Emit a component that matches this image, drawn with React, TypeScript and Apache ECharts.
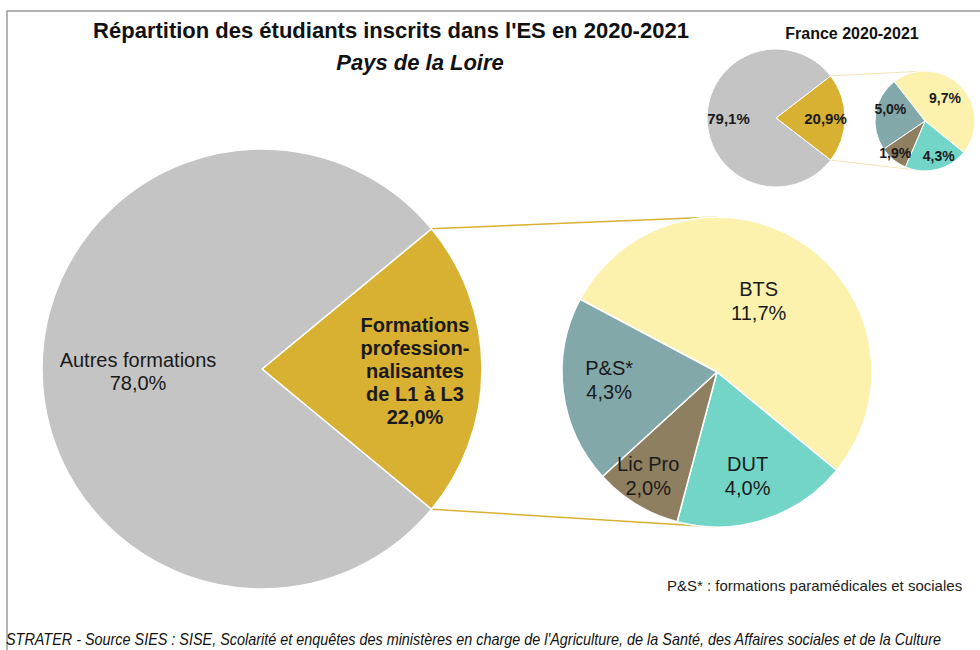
import React, { useEffect, useRef } from "react";
import * as echarts from "echarts";

// ---- Data ----
const mainNames = ["Formations professionnalisantes de L1 à L3", "Autres formations"];
const mainLabels = ["Formations\nprofession-\nnalisantes\nde L1 à L3", "Autres formations"];
const mainValues = [22.0, 78.0];

const subNames = ["BTS", "DUT", "Lic Pro", "P&S*"];
const subValues = [11.7, 4.0, 2.0, 4.3];

const franceMainValues = [20.9, 79.1];
const franceSubValues = [9.7, 4.3, 1.9, 5.0];

const titleText = "Répartition des étudiants inscrits dans l'ES en 2020-2021";
const subtitleText = "Pays de la Loire";
const franceTitle = "France 2020-2021";
const noteText = "P&S* : formations paramédicales et sociales";
const sourceText =
  "STRATER - Source SIES : SISE, Scolarité et enquêtes des ministères en charge de l'Agriculture, de la Santé, des Affaires sociales et de la Culture";

// ---- Styles ----
const FONT = '"Liberation Sans", Arial, sans-serif';
const mainColors = ["#d8b032", "#c4c4c4"];
const subColors = ["#fcf2ae", "#72d5c8", "#8e7f60", "#82a8aa"];
const fmt = (v: number) => v.toFixed(1).replace(".", ",") + "%";

export default function App() {
  const ref = useRef<HTMLDivElement>(null);
  useEffect(() => {
    if (!ref.current) return;
    const chart = echarts.init(ref.current, undefined, { renderer: "svg" });

    // geometry
    const mC = [262, 369], mR = 220;
    const sC = [717, 372], sR = 155;
    const fC = [776, 118], fR = 69;
    const fsC = [925, 121], fsR = 50;

    const mainTotal = mainValues.reduce((a, b) => a + b, 0);
    const mainHalf = (mainValues[0] / mainTotal) * 180;
    const fTotal = franceMainValues.reduce((a, b) => a + b, 0);
    const fHalf = (franceMainValues[0] / fTotal) * 180;
    const rad = (d: number) => (d * Math.PI) / 180;

    const mainOff = [[40, 2], [-11, 2]];
    const subOff = [[-3, -4], [6, 27], [-27, 35], [-28, -2]];
    const fOff = [[12, 0], [-10, 0]];
    const fsOff = [[0, -3], [7, 8], [-12, 10], [-7, -8]];

    const baseSeries = {
      type: "pie",
      silent: true,
      clockwise: true,
      avoidLabelOverlap: false,
      labelLine: { show: false },
      emphasis: { disabled: true },
      itemStyle: { borderColor: "#ffffff", borderWidth: 1.5 },
    };

    const option: any = {
      animation: false,
      backgroundColor: "#ffffff",
      series: [
        {
          ...baseSeries,
          center: mC,
          radius: mR,
          startAngle: mainHalf,
          data: mainValues.map((v, i) => ({
            name: mainNames[i],
            value: v,
            itemStyle: { color: mainColors[i] },
            label: {
              fontWeight: i === 0 ? "bold" : "normal",
            },
          })),
          label: {
            show: true,
            position: "inside",
            fontFamily: FONT,
            fontSize: 20,
            lineHeight: 23,
            color: "#1a1a1a",
            formatter: (p: any) => mainLabels[p.dataIndex] + "\n" + fmt(p.value),
          },
          labelLayout: (p: any) => ({ dx: mainOff[p.dataIndex][0], dy: mainOff[p.dataIndex][1] }),
        },
        {
          ...baseSeries,
          center: sC,
          radius: sR,
          startAngle: 152,
          data: subValues.map((v, i) => ({
            name: subNames[i],
            value: v,
            itemStyle: { color: subColors[i] },
          })),
          label: {
            show: true,
            position: "inside",
            fontFamily: FONT,
            fontSize: 20,
            lineHeight: 24,
            color: "#1a1a1a",
            formatter: (p: any) => p.name + "\n" + fmt(p.value),
          },
          labelLayout: (p: any) => ({ dx: subOff[p.dataIndex][0], dy: subOff[p.dataIndex][1] }),
        },
        {
          ...baseSeries,
          center: fC,
          radius: fR,
          startAngle: fHalf,
          itemStyle: { borderColor: "#ffffff", borderWidth: 1 },
          data: franceMainValues.map((v, i) => ({
            name: mainNames[i],
            value: v,
            itemStyle: { color: mainColors[i] },
          })),
          label: {
            show: true,
            position: "inside",
            fontFamily: FONT,
            fontSize: 15,
            fontWeight: "bold",
            color: "#1a1a1a",
            formatter: (p: any) => fmt(p.value),
          },
          labelLayout: (p: any) => ({ dx: fOff[p.dataIndex][0], dy: fOff[p.dataIndex][1] }),
        },
        {
          ...baseSeries,
          center: fsC,
          radius: fsR,
          startAngle: 128,
          itemStyle: { borderColor: "#ffffff", borderWidth: 1 },
          data: franceSubValues.map((v, i) => ({
            name: subNames[i],
            value: v,
            itemStyle: { color: subColors[i] },
          })),
          label: {
            show: true,
            position: "inside",
            fontFamily: FONT,
            fontSize: 14,
            fontWeight: "bold",
            color: "#1a1a1a",
            formatter: (p: any) => fmt(p.value),
          },
          labelLayout: (p: any) => ({ dx: fsOff[p.dataIndex][0], dy: fsOff[p.dataIndex][1] }),
        },
      ],
      graphic: [
        {
          type: "rect",
          z: -10,
          shape: { x: 7, y: 11, width: 1000, height: 700 },
          style: { fill: "none", stroke: "#9a9a9a", lineWidth: 1.5 },
        },
        {
          type: "line",
          z: -5,
          shape: {
            x1: mC[0] + mR * Math.cos(rad(mainHalf)),
            y1: mC[1] - mR * Math.sin(rad(mainHalf)),
            x2: sC[0],
            y2: sC[1] - sR,
          },
          style: { stroke: "#d8b032", lineWidth: 1.5 },
        },
        {
          type: "line",
          z: -5,
          shape: {
            x1: mC[0] + mR * Math.cos(rad(mainHalf)),
            y1: mC[1] + mR * Math.sin(rad(mainHalf)),
            x2: sC[0],
            y2: sC[1] + sR,
          },
          style: { stroke: "#d8b032", lineWidth: 1.5 },
        },
        {
          type: "line",
          z: -5,
          shape: {
            x1: fC[0] + fR * Math.cos(rad(fHalf)),
            y1: fC[1] - fR * Math.sin(rad(fHalf)),
            x2: fsC[0],
            y2: fsC[1] - fsR,
          },
          style: { stroke: "#f1e6b6", lineWidth: 1 },
        },
        {
          type: "line",
          z: -5,
          shape: {
            x1: fC[0] + fR * Math.cos(rad(fHalf)),
            y1: fC[1] + fR * Math.sin(rad(fHalf)),
            x2: fsC[0],
            y2: fsC[1] + fsR,
          },
          style: { stroke: "#f1e6b6", lineWidth: 1 },
        },
        {
          type: "text",
          x: 391,
          y: 30,
          style: {
            text: titleText,
            fill: "#111111",
            font: `bold 22px ${FONT}`,
            align: "center",
            verticalAlign: "middle",
          },
        },
        {
          type: "text",
          x: 420,
          y: 62,
          style: {
            text: subtitleText,
            fill: "#111111",
            font: `italic bold 22px ${FONT}`,
            align: "center",
            verticalAlign: "middle",
          },
        },
        {
          type: "text",
          x: 852,
          y: 33,
          style: {
            text: franceTitle,
            fill: "#111111",
            font: `bold 16px ${FONT}`,
            align: "center",
            verticalAlign: "middle",
          },
        },
        {
          type: "text",
          x: 667,
          y: 585,
          style: {
            text: noteText,
            fill: "#222222",
            font: `15px ${FONT}`,
            align: "left",
            verticalAlign: "middle",
          },
        },
        {
          type: "text",
          x: 6,
          y: 631,
          scaleX: 0.9,
          style: {
            text: sourceText,
            fill: "#111111",
            font: `italic 16px ${FONT}`,
            align: "left",
            verticalAlign: "top",
          },
        },
      ],
    };
    chart.setOption(option);
    return () => chart.dispose();
  }, []);
  return (
    <div
      ref={ref}
      style={{ position: "absolute", left: 0, top: 0, width: 980, height: 650 }}
    />
  );
}
